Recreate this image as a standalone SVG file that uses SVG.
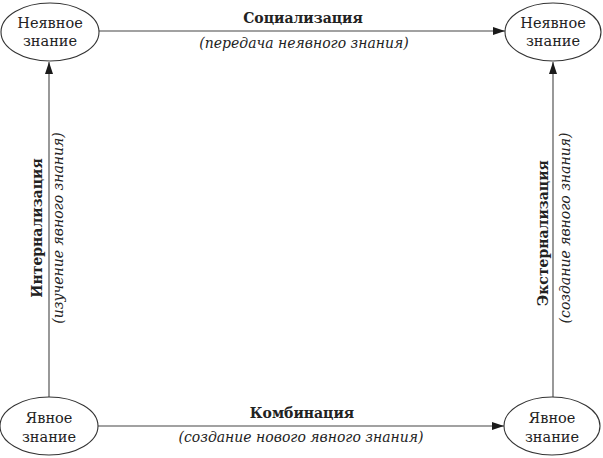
<svg xmlns="http://www.w3.org/2000/svg" width="603" height="458" viewBox="0 0 603 458">
<defs>
<marker id="arr" viewBox="0 0 12 8" refX="12" refY="4" markerWidth="12" markerHeight="8" markerUnits="userSpaceOnUse" orient="auto">
<path d="M0,0 L12,4 L0,8 Z" fill="#1a1a1a"/>
</marker>
</defs>
<style>
.node ellipse{fill:#fff;stroke:#333;stroke-width:1.1}
.nt{font-family:"DejaVu Serif","Liberation Serif",serif;font-size:14.5px;fill:#222;text-anchor:middle}
.conn line{stroke:#444;stroke-width:1.1;fill:none}
.lb{font-family:"DejaVu Serif","Liberation Serif",serif;font-size:14px;font-weight:bold;fill:#222;text-anchor:middle}
.li{font-family:"DejaVu Serif","Liberation Serif",serif;font-size:14px;font-style:italic;fill:#222;text-anchor:middle}
</style>
<g id="conn" class="conn">
<line x1="99" y1="31" x2="505" y2="31" marker-end="url(#arr)"/>
<line x1="98" y1="426" x2="504" y2="426" marker-end="url(#arr)"/>
<line x1="49" y1="397" x2="49" y2="62" marker-end="url(#arr)"/>
<line x1="553" y1="397" x2="553" y2="62" marker-end="url(#arr)"/>
</g>
<g id="labels">
<text class="lb" x="303" y="23">Социализация</text>
<text class="li" x="304" y="48">(передача неявного знания)</text>
<text class="lb" x="302" y="418">Комбинация</text>
<text class="li" x="301" y="442">(создание нового явного знания)</text>
<text class="lb" transform="translate(42,228) rotate(-90)">Интернализация</text>
<text class="li" transform="translate(63,228) rotate(-90)">(изучение явного знания)</text>
<text class="lb" transform="translate(548,233) rotate(-90)">Экстернализация</text>
<text class="li" transform="translate(570,228) rotate(-90)">(создание явного знания)</text>
</g>
<g id="n1" class="node">
<ellipse cx="50" cy="32" rx="49" ry="29"/>
<text class="nt" x="50" y="28">Неявное</text>
<text class="nt" x="50" y="46">знание</text>
</g>
<g id="n2" class="node">
<ellipse cx="553" cy="32" rx="48" ry="29"/>
<text class="nt" x="553" y="28">Неявное</text>
<text class="nt" x="553" y="46">знание</text>
</g>
<g id="n3" class="node">
<ellipse cx="49" cy="426" rx="49" ry="29"/>
<text class="nt" x="49" y="423">Явное</text>
<text class="nt" x="49" y="442">знание</text>
</g>
<g id="n4" class="node">
<ellipse cx="552" cy="426" rx="48" ry="29"/>
<text class="nt" x="552" y="423">Явное</text>
<text class="nt" x="552" y="442">знание</text>
</g>
</svg>
